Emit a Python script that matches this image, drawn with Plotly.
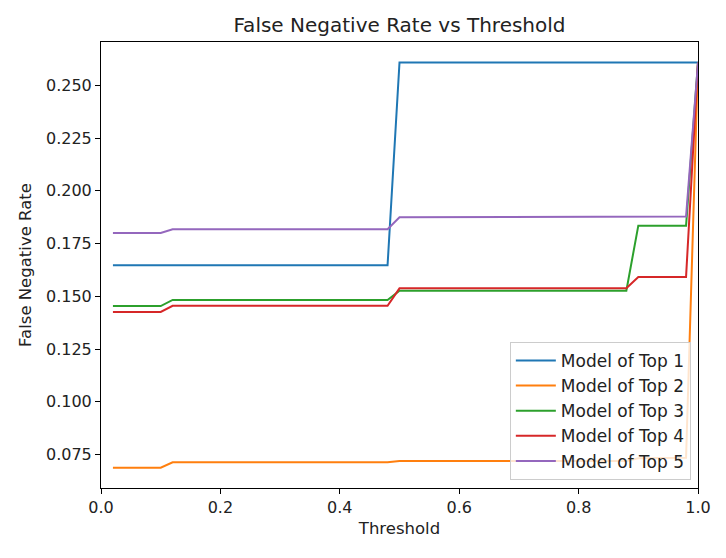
import plotly.graph_objects as go

thresholds = [0.02, 0.04, 0.06, 0.08, 0.10, 0.12, 0.14, 0.16, 0.18, 0.20,
              0.22, 0.24, 0.26, 0.28, 0.30, 0.32, 0.34, 0.36, 0.38, 0.40,
              0.42, 0.44, 0.46, 0.48, 0.50, 0.52, 0.54, 0.56, 0.58, 0.60,
              0.62, 0.64, 0.66, 0.68, 0.70, 0.72, 0.74, 0.76, 0.78, 0.80,
              0.82, 0.84, 0.86, 0.88, 0.90, 0.92, 0.94, 0.96, 0.98, 1.00]

top1 = [0.1647, 0.1647, 0.1647, 0.1647, 0.1647, 0.1647, 0.1647, 0.1647, 0.1647, 0.1647,
        0.1647, 0.1647, 0.1647, 0.1647, 0.1647, 0.1647, 0.1647, 0.1647, 0.1647, 0.1647,
        0.1647, 0.1647, 0.1647, 0.1647, 0.2608, 0.2608, 0.2608, 0.2608, 0.2608, 0.2608,
        0.2608, 0.2608, 0.2608, 0.2608, 0.2608, 0.2608, 0.2608, 0.2608, 0.2608, 0.2608,
        0.2608, 0.2608, 0.2608, 0.2608, 0.2608, 0.2608, 0.2608, 0.2608, 0.2608, 0.2608]

top2 = [0.0688, 0.0688, 0.0688, 0.0688, 0.0688, 0.0714, 0.0714, 0.0714, 0.0714, 0.0714,
        0.0714, 0.0714, 0.0714, 0.0714, 0.0714, 0.0714, 0.0714, 0.0714, 0.0714, 0.0714,
        0.0714, 0.0714, 0.0714, 0.0714, 0.0720, 0.0720, 0.0720, 0.0720, 0.0720, 0.0720,
        0.0720, 0.0720, 0.0720, 0.0720, 0.0720, 0.0720, 0.0720, 0.0720, 0.0720, 0.0720,
        0.0720, 0.0720, 0.0720, 0.0720, 0.0733, 0.0733, 0.0733, 0.0733, 0.0735, 0.2608]

top3 = [0.1454, 0.1454, 0.1454, 0.1454, 0.1454, 0.1483, 0.1483, 0.1483, 0.1483, 0.1483,
        0.1483, 0.1483, 0.1483, 0.1483, 0.1483, 0.1483, 0.1483, 0.1483, 0.1483, 0.1483,
        0.1483, 0.1483, 0.1483, 0.1483, 0.1527, 0.1527, 0.1527, 0.1527, 0.1527, 0.1527,
        0.1527, 0.1527, 0.1527, 0.1527, 0.1527, 0.1527, 0.1527, 0.1527, 0.1527, 0.1527,
        0.1527, 0.1527, 0.1527, 0.1527, 0.1835, 0.1835, 0.1835, 0.1835, 0.1835, 0.2608]

top4 = [0.1426, 0.1426, 0.1426, 0.1426, 0.1426, 0.1455, 0.1455, 0.1455, 0.1455, 0.1455,
        0.1455, 0.1455, 0.1455, 0.1455, 0.1455, 0.1455, 0.1455, 0.1455, 0.1455, 0.1455,
        0.1455, 0.1455, 0.1455, 0.1455, 0.1538, 0.1538, 0.1538, 0.1538, 0.1538, 0.1538,
        0.1538, 0.1538, 0.1538, 0.1538, 0.1538, 0.1538, 0.1538, 0.1538, 0.1538, 0.1538,
        0.1538, 0.1538, 0.1538, 0.1538, 0.1592, 0.1592, 0.1592, 0.1592, 0.1592, 0.2608]

top5 = [0.1800, 0.1800, 0.1800, 0.1800, 0.1800, 0.1818, 0.1818, 0.1818, 0.1818, 0.1818,
        0.1818, 0.1818, 0.1818, 0.1818, 0.1818, 0.1818, 0.1818, 0.1818, 0.1818, 0.1818,
        0.1818, 0.1818, 0.1818, 0.1818, 0.1875, 0.1875, 0.1875, 0.1875, 0.1875, 0.1875,
        0.1875, 0.1875, 0.1875, 0.1875, 0.1875, 0.1875, 0.1875, 0.1875, 0.1875, 0.1875,
        0.1875, 0.1875, 0.1875, 0.1875, 0.1878, 0.1878, 0.1878, 0.1878, 0.1878, 0.2608]

series_names = ["Model of Top 1", "Model of Top 2", "Model of Top 3", "Model of Top 4", "Model of Top 5"]
series_values = [top1, top2, top3, top4, top5]
colors = ["#1f77b4", "#ff7f0e", "#2ca02c", "#d62728", "#9467bd"]

x_ticks = [0.0, 0.2, 0.4, 0.6, 0.8, 1.0]
y_ticks = [0.075, 0.100, 0.125, 0.150, 0.175, 0.200, 0.225, 0.250]

fig = go.Figure()
for name, vals, c in zip(series_names, series_values, colors):
    fig.add_trace(go.Scatter(x=thresholds, y=vals, mode="lines", name=name,
                             line=dict(color=c, width=2)))

font = "DejaVu Sans, Liberation Sans, sans-serif"
axis_common = dict(showline=True, linecolor="black", linewidth=1, mirror=True,
                   ticks="outside", ticklen=5, tickwidth=1, tickcolor="black",
                   showgrid=False, zeroline=False, automargin=False,
                   tickfont=dict(family=font, size=16, color="#222"))

# the page body adds an 8px offset, so the figure is sized to compensate
W, H = 718, 550
L, R, T, B = 93, 28, 34, 70
fig.update_layout(
    width=W, height=H,
    margin=dict(l=L, r=R, t=T, b=B),
    paper_bgcolor="white", plot_bgcolor="white",
    title=dict(text="False Negative Rate vs Threshold", x=(L + (W - R)) / 2 / W, xanchor="center",
               y=1 - 17 / H, yanchor="middle",
               font=dict(family=font, size=20, color="#222")),
    xaxis=dict(range=[0, 1.0], tickvals=x_ticks, tickformat=".1f",
               title=dict(text="Threshold", font=dict(family=font, size=16.5, color="#222"), standoff=6),
               **axis_common),
    yaxis=dict(range=[0.0592, 0.2705], tickvals=y_ticks, tickformat=".3f",
               title=dict(text="False Negative Rate", font=dict(family=font, size=16.5, color="#222"), standoff=10),
               **axis_common),
    legend=dict(x=0.988, y=0.018, xanchor="right", yanchor="bottom",
                bgcolor="rgba(255,255,255,0.8)", bordercolor="#cccccc", borderwidth=1,
                font=dict(family=font, size=17, color="#222"),
                tracegroupgap=0, itemwidth=40),
    showlegend=True,
)

fig.write_html("out.html")
